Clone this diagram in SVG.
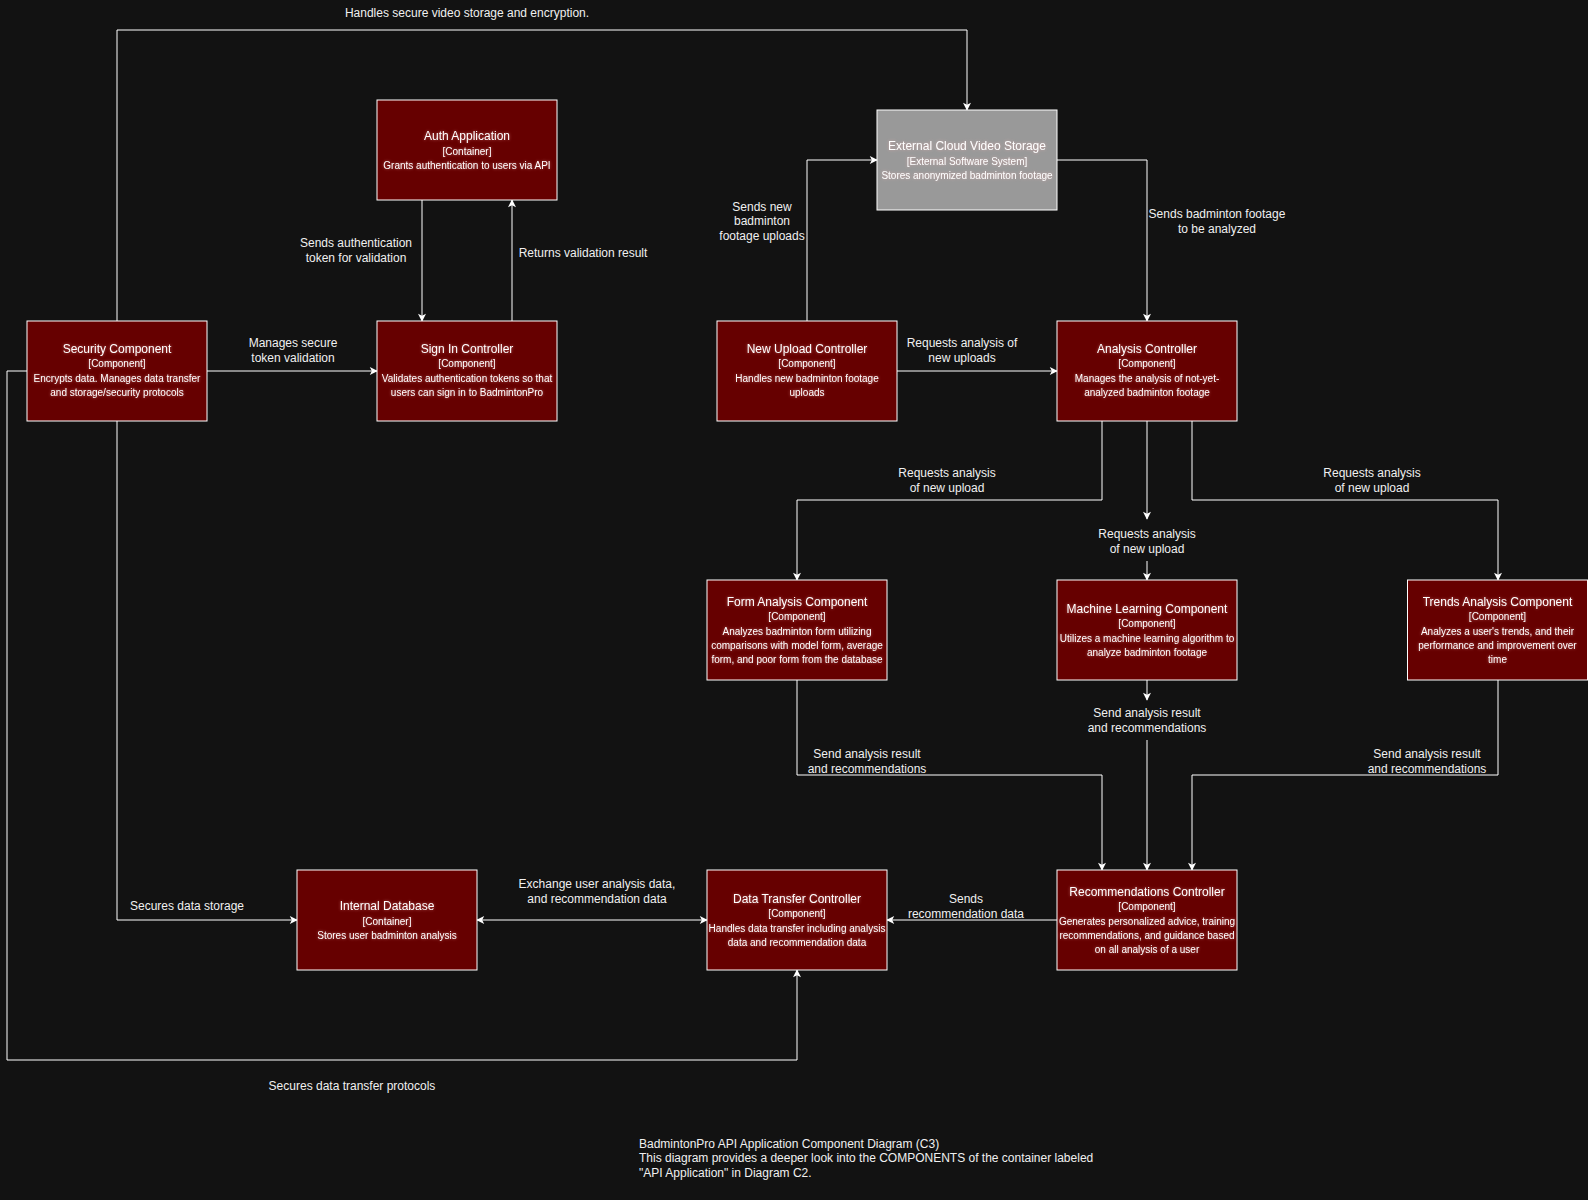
<svg xmlns="http://www.w3.org/2000/svg" width="1588" height="1200" viewBox="0 0 1588 1200">
<defs>
<marker id="arr" viewBox="0 0 10 10" refX="9" refY="5" markerWidth="9" markerHeight="8" markerUnits="userSpaceOnUse" orient="auto-start-reverse">
<path d="M0,0 L10,5 L0,10 L2.5,5 z" fill="#ffffff"/>
</marker>
<filter id="glow" x="-10%" y="-30%" width="120%" height="160%">
<feGaussianBlur in="SourceAlpha" stdDeviation="1.6" result="b"/>
<feFlood flood-color="#ffb0b0" flood-opacity="0.5"/>
<feComposite in2="b" operator="in" result="s"/>
<feMerge><feMergeNode in="s"/><feMergeNode in="SourceGraphic"/></feMerge>
</filter>
<style>
.bg{fill:#121212}
.box{fill:#660000;stroke:#ffffff;stroke-width:1}
.ext{fill:#999999;stroke:#ffffff;stroke-width:1}
.t{font-family:"Liberation Sans",Arial,sans-serif;fill:#ffffff;text-anchor:middle}
.nt{font-size:12px}
.nd{font-size:10px}
.lbl{font-family:"Liberation Sans",Arial,sans-serif;font-size:12px;fill:#f0f0f0;text-anchor:middle}
.ttl{font-family:"Liberation Sans",Arial,sans-serif;font-size:12px;fill:#f0f0f0}
.e{fill:none;stroke:#ffffff;stroke-width:1}
.node text{filter:url(#glow)}
</style>
</defs>
<rect class="bg" x="0" y="0" width="1588" height="1200"/>

<g id="connectors">
<path class="e" d="M117,321 V30 H967 V110" marker-end="url(#arr)"/>
<path class="e" d="M422,200 V321" marker-end="url(#arr)"/>
<path class="e" d="M512,321 V200" marker-end="url(#arr)"/>
<path class="e" d="M207,371 H377" marker-end="url(#arr)"/>
<path class="e" d="M807,321 V160 H877" marker-end="url(#arr)"/>
<path class="e" d="M1057,160 H1147 V321" marker-end="url(#arr)"/>
<path class="e" d="M897,371 H1057" marker-end="url(#arr)"/>
<path class="e" d="M1102,421 V500 H797 V580" marker-end="url(#arr)"/>
<path class="e" d="M1147,421 V519" marker-end="url(#arr)"/>
<path class="e" d="M1147,561 V580" marker-end="url(#arr)"/>
<path class="e" d="M1192,421 V500 H1498 V580" marker-end="url(#arr)"/>
<path class="e" d="M797,680 V775 H1102 V870" marker-end="url(#arr)"/>
<path class="e" d="M1147,680 V700" marker-end="url(#arr)"/>
<path class="e" d="M1147,740 V870" marker-end="url(#arr)"/>
<path class="e" d="M1498,680 V775 H1192 V870" marker-end="url(#arr)"/>
<path class="e" d="M1057,920 H887" marker-end="url(#arr)"/>
<path class="e" d="M477,920 H707" marker-start="url(#arr)" marker-end="url(#arr)"/>
<path class="e" d="M117,421 V920 H297" marker-end="url(#arr)"/>
<path class="e" d="M27,371 H7 V1060 H797 V970" marker-end="url(#arr)"/>

<text class="lbl" x="467" y="17">Handles secure video storage and encryption.</text>
<text class="lbl" x="356" y="247">Sends authentication</text>
<text class="lbl" x="356" y="262">token for validation</text>
<text class="lbl" x="583" y="257">Returns validation result</text>
<text class="lbl" x="293" y="347">Manages secure</text>
<text class="lbl" x="293" y="362">token validation</text>
<text class="lbl" x="762" y="211">Sends new</text>
<text class="lbl" x="762" y="225">badminton</text>
<text class="lbl" x="762" y="240">footage uploads</text>
<text class="lbl" x="1217" y="218">Sends badminton footage</text>
<text class="lbl" x="1217" y="233">to be analyzed</text>
<text class="lbl" x="962" y="347">Requests analysis of</text>
<text class="lbl" x="962" y="362">new uploads</text>
<text class="lbl" x="947" y="477">Requests analysis</text>
<text class="lbl" x="947" y="492">of new upload</text>
<text class="lbl" x="1147" y="538">Requests analysis</text>
<text class="lbl" x="1147" y="553">of new upload</text>
<text class="lbl" x="1372" y="477">Requests analysis</text>
<text class="lbl" x="1372" y="492">of new upload</text>
<text class="lbl" x="867" y="758">Send analysis result</text>
<text class="lbl" x="867" y="773">and recommendations</text>
<text class="lbl" x="1147" y="717">Send analysis result</text>
<text class="lbl" x="1147" y="732">and recommendations</text>
<text class="lbl" x="1427" y="758">Send analysis result</text>
<text class="lbl" x="1427" y="773">and recommendations</text>
<text class="lbl" x="966" y="903">Sends</text>
<text class="lbl" x="966" y="918">recommendation data</text>
<text class="lbl" x="597" y="888">Exchange user analysis data,</text>
<text class="lbl" x="597" y="903">and recommendation data</text>
<text class="lbl" x="187" y="910">Secures data storage</text>
<text class="lbl" x="352" y="1090">Secures data transfer protocols</text>
</g>

<g id="auth-application" class="node">
<rect class="box" x="377" y="100" width="180" height="100"/>
<text class="t nt" x="467" y="140">Auth Application</text>
<text class="t nd" x="467" y="155">[Container]</text>
<text class="t nd" x="467" y="169">Grants authentication to users via API</text>
</g>

<g id="security-component" class="node">
<rect class="box" x="27" y="321" width="180" height="100"/>
<text class="t nt" x="117" y="353">Security Component</text>
<text class="t nd" x="117" y="367">[Component]</text>
<text class="t nd" x="117" y="382">Encrypts data. Manages data transfer</text>
<text class="t nd" x="117" y="396">and storage/security protocols</text>
</g>

<g id="sign-in-controller" class="node">
<rect class="box" x="377" y="321" width="180" height="100"/>
<text class="t nt" x="467" y="353">Sign In Controller</text>
<text class="t nd" x="467" y="367">[Component]</text>
<text class="t nd" x="467" y="382">Validates authentication tokens so that</text>
<text class="t nd" x="467" y="396">users can sign in to BadmintonPro</text>
</g>

<g id="external-cloud-video-storage" class="node">
<rect class="ext" x="877" y="110" width="180" height="100"/>
<text class="t nt" x="967" y="150">External Cloud Video Storage</text>
<text class="t nd" x="967" y="165">[External Software System]</text>
<text class="t nd" x="967" y="179">Stores anonymized badminton footage</text>
</g>

<g id="new-upload-controller" class="node">
<rect class="box" x="717" y="321" width="180" height="100"/>
<text class="t nt" x="807" y="353">New Upload Controller</text>
<text class="t nd" x="807" y="367">[Component]</text>
<text class="t nd" x="807" y="382">Handles new badminton footage</text>
<text class="t nd" x="807" y="396">uploads</text>
</g>

<g id="analysis-controller" class="node">
<rect class="box" x="1057" y="321" width="180" height="100"/>
<text class="t nt" x="1147" y="353">Analysis Controller</text>
<text class="t nd" x="1147" y="367">[Component]</text>
<text class="t nd" x="1147" y="382">Manages the analysis of not-yet-</text>
<text class="t nd" x="1147" y="396">analyzed badminton footage</text>
</g>

<g id="form-analysis-component" class="node">
<rect class="box" x="707" y="580" width="180" height="100"/>
<text class="t nt" x="797" y="606">Form Analysis Component</text>
<text class="t nd" x="797" y="620">[Component]</text>
<text class="t nd" x="797" y="635">Analyzes badminton form utilizing</text>
<text class="t nd" x="797" y="649">comparisons with model form, average</text>
<text class="t nd" x="797" y="663">form, and poor form from the database</text>
</g>

<g id="machine-learning-component" class="node">
<rect class="box" x="1057" y="580" width="180" height="100"/>
<text class="t nt" x="1147" y="613">Machine Learning Component</text>
<text class="t nd" x="1147" y="627">[Component]</text>
<text class="t nd" x="1147" y="642">Utilizes a machine learning algorithm to</text>
<text class="t nd" x="1147" y="656">analyze badminton footage</text>
</g>

<g id="trends-analysis-component" class="node">
<rect class="box" x="1407.5" y="580" width="180" height="100"/>
<text class="t nt" x="1497.5" y="606">Trends Analysis Component</text>
<text class="t nd" x="1497.5" y="620">[Component]</text>
<text class="t nd" x="1497.5" y="635">Analyzes a user's trends, and their</text>
<text class="t nd" x="1497.5" y="649">performance and improvement over</text>
<text class="t nd" x="1497.5" y="663">time</text>
</g>

<g id="internal-database" class="node">
<rect class="box" x="297" y="870" width="180" height="100"/>
<text class="t nt" x="387" y="910">Internal Database</text>
<text class="t nd" x="387" y="925">[Container]</text>
<text class="t nd" x="387" y="939">Stores user badminton analysis</text>
</g>

<g id="data-transfer-controller" class="node">
<rect class="box" x="707" y="870" width="180" height="100"/>
<text class="t nt" x="797" y="903">Data Transfer Controller</text>
<text class="t nd" x="797" y="917">[Component]</text>
<text class="t nd" x="797" y="932">Handles data transfer including analysis</text>
<text class="t nd" x="797" y="946">data and recommendation data</text>
</g>

<g id="recommendations-controller" class="node">
<rect class="box" x="1057" y="870" width="180" height="100"/>
<text class="t nt" x="1147" y="896">Recommendations Controller</text>
<text class="t nd" x="1147" y="910">[Component]</text>
<text class="t nd" x="1147" y="925">Generates personalized advice, training</text>
<text class="t nd" x="1147" y="939">recommendations, and guidance based</text>
<text class="t nd" x="1147" y="953">on all analysis of a user</text>
</g>

<g id="diagram-title">
<text class="ttl" x="639" y="1148">BadmintonPro API Application Component Diagram (C3)</text>
<text class="ttl" x="639" y="1162">This diagram provides a deeper look into the COMPONENTS of the container labeled</text>
<text class="ttl" x="639" y="1177">"API Application" in Diagram C2.</text>
</g>
</svg>
